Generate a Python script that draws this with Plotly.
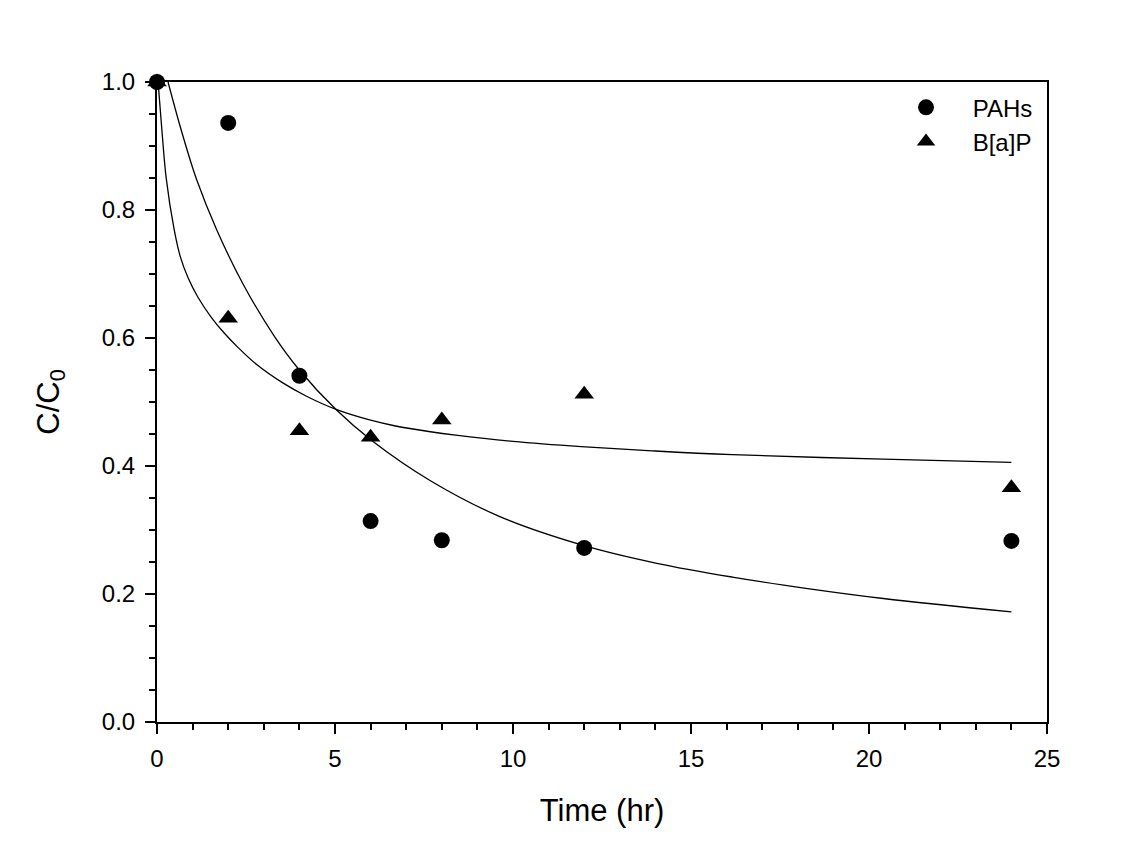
import plotly.graph_objects as go

# Measured data
time_pts = [0, 2, 4, 6, 8, 12, 24]
pahs = [1.0, 0.936, 0.541, 0.314, 0.284, 0.272, 0.283]
bap = [1.0, 0.631, 0.455, 0.445, 0.472, 0.512, 0.366]

# Fitted curves
fit_pahs_t = [0.31, 0.68, 1.11, 1.67, 2.42, 3.27, 3.97, 5.05, 6.04, 7.68, 9.63, 12.0, 14.04, 16.16, 18.28, 20.4, 24.0]
fit_pahs_v = [1.0, 0.925, 0.848, 0.770, 0.684, 0.605, 0.552, 0.487, 0.4395, 0.377, 0.321, 0.2756, 0.248, 0.2265, 0.2085, 0.193, 0.172]
fit_bap_t = [0.03, 0.14, 0.26, 0.48, 0.65, 0.87, 1.15, 1.53, 1.9, 2.28, 2.8, 3.5, 4.2, 5.05, 6.0, 6.7,
             7.68, 8.39, 10.0, 11.92, 14.0, 16.16, 20.4, 24.0]
fit_bap_v = [1.0, 0.923, 0.849, 0.770, 0.728, 0.6945, 0.6637, 0.632, 0.607, 0.585, 0.5585, 0.531, 0.509, 0.488,
             0.4715, 0.4625, 0.4535, 0.4482, 0.4385, 0.4303, 0.4234, 0.4177, 0.4107, 0.4058]

FONT = "Liberation Sans, Arial, sans-serif"

fig = go.Figure()
fig.add_trace(go.Scatter(x=fit_pahs_t, y=fit_pahs_v, mode="lines",
                         line=dict(color="black", width=1.3, shape="spline", smoothing=1.0),
                         showlegend=False, hoverinfo="skip"))
fig.add_trace(go.Scatter(x=fit_bap_t, y=fit_bap_v, mode="lines",
                         line=dict(color="black", width=1.3, shape="spline", smoothing=1.0),
                         showlegend=False, hoverinfo="skip"))
fig.add_trace(go.Scatter(x=time_pts, y=bap, mode="markers", name="\u00a0\u00a0\u00a0\u00a0B[a]P",
                         marker=dict(symbol="triangle-up", size=17, color="black"),
                         cliponaxis=False))
fig.add_trace(go.Scatter(x=time_pts, y=pahs, mode="markers", name="\u00a0\u00a0\u00a0\u00a0PAHs",
                         marker=dict(symbol="circle", size=16, color="black"),
                         cliponaxis=False))

axis_common = dict(showline=True, linecolor="black", linewidth=2, mirror=True,
                   ticks="outside", ticklen=10, tickwidth=2, tickcolor="black",
                   showgrid=False, zeroline=False,
                   tickfont=dict(family=FONT, size=24, color="black"))

fig.update_xaxes(range=[0, 25], dtick=5, tick0=0, ticklabelstandoff=4,
                 minor=dict(dtick=1, ticks="outside", ticklen=6, tickwidth=2, tickcolor="black"),
                 title=dict(text="Time (hr)", font=dict(family=FONT, size=31, color="black"), standoff=29),
                 **axis_common)
fig.update_yaxes(range=[0, 1.0], dtick=0.2, tick0=0, tickformat=".1f", ticklabelstandoff=5,
                 minor=dict(dtick=0.05, ticks="outside", ticklen=6, tickwidth=2, tickcolor="black"),
                 title=dict(text="C/C<sub>0</sub>", font=dict(family=FONT, size=31, color="black"), standoff=33),
                 **axis_common)

fig.update_layout(
    width=1134, height=849,
    margin=dict(l=149, r=95, t=74, b=135),
    plot_bgcolor="white", paper_bgcolor="white",
    legend=dict(x=0.8416, y=0.995, xanchor="left", yanchor="top", traceorder="reversed",
                bgcolor="rgba(0,0,0,0)", font=dict(family=FONT, size=24, color="black")),
)

fig.write_html("out.html")
